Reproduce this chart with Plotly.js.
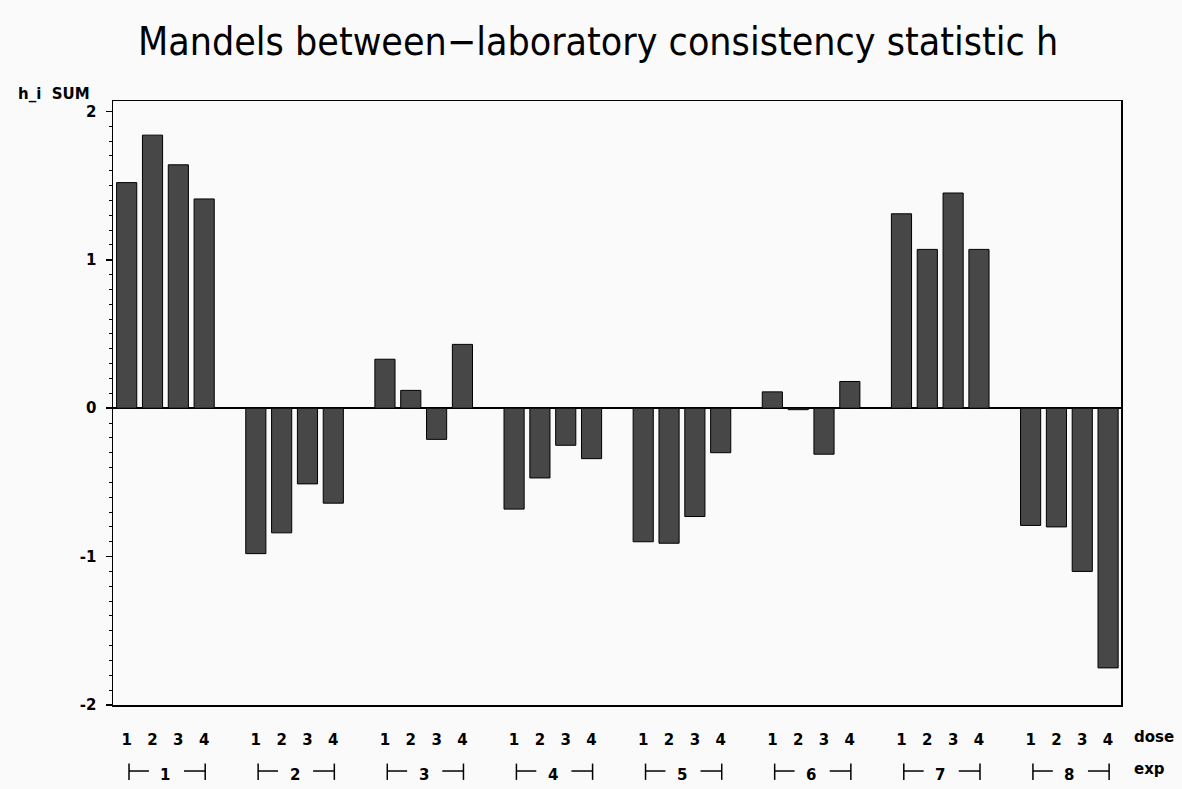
<!DOCTYPE html>
<html>
<head>
<meta charset="utf-8">
<script src="https://cdn.plot.ly/plotly-3.0.1.min.js"></script>
<style>
html,body{margin:0;padding:0;background:#fafafa;}
#chart{width:1182px;height:789px;}
</style>
</head>
<body>
<div id="chart"></div>
<script>
// ---- data ----
const expLabels  = ['1','2','3','4','5','6','7','8'];
const doseLabels = ['1','2','3','4'];
const exp1 = [1.52, 1.84, 1.64, 1.41];
const exp2 = [-0.98, -0.84, -0.51, -0.64];
const exp3 = [0.33, 0.12, -0.21, 0.43];
const exp4 = [-0.68, -0.47, -0.25, -0.34];
const exp5 = [-0.90, -0.91, -0.73, -0.30];
const exp6 = [0.11, -0.01, -0.31, 0.18];
const exp7 = [1.31, 1.07, 1.45, 1.07];
const exp8 = [-0.79, -0.80, -1.10, -1.75];
const hValues = [exp1, exp2, exp3, exp4, exp5, exp6, exp7, exp8];
const yTickVals = [-2, -1, 0, 1, 2];
const yTickText = ['-2', '-1', '0', '1', '2'];

// ---- build positions: 4 dose slots + 1 gap slot per experiment ----
const slotsPerGroup = doseLabels.length + 1;
const xs = [], ys = [], tickText = [];
hValues.forEach((vals, g) => {
  vals.forEach((v, d) => {
    xs.push(g * slotsPerGroup + d);
    ys.push(v);
    tickText.push(doseLabels[d]);
  });
});

const trace = {
  type: 'bar',
  x: xs,
  y: ys,
  width: 0.78,
  marker: { color: '#474747', line: { color: '#000000', width: 1 } },
  hoverinfo: 'x+y'
};

const FAM = 'DejaVu Sans, Liberation Sans, Arial, sans-serif';
const tickFont = { family: FAM, size: 15, color: '#000', weight: 'bold' };
const shapes = [];
const annotations = [];
const yLine = -0.1093, yTop = -0.097, yBot = -0.124;
expLabels.forEach((lab, g) => {
  const x0 = g * slotsPerGroup;
  const left = x0 + 0.09, right = x0 + 3.04;
  const lineStyle = { color: '#000', width: 1.5 };
  shapes.push({ type: 'line', xref: 'x', yref: 'paper', x0: left, x1: left, y0: yTop, y1: yBot, line: lineStyle });
  shapes.push({ type: 'line', xref: 'x', yref: 'paper', x0: left, x1: x0 + 0.86, y0: yLine, y1: yLine, line: lineStyle });
  shapes.push({ type: 'line', xref: 'x', yref: 'paper', x0: x0 + 2.22, x1: right, y0: yLine, y1: yLine, line: lineStyle });
  shapes.push({ type: 'line', xref: 'x', yref: 'paper', x0: right, x1: right, y0: yTop, y1: yBot, line: lineStyle });
  annotations.push({ xref: 'x', yref: 'paper', x: x0 + 1.5, y: yLine - 0.006, text: lab,
    showarrow: false, font: tickFont, xanchor: 'center', yanchor: 'middle' });
});
annotations.push({ xref: 'paper', yref: 'paper', x: -0.096, y: 1.011, text: 'h_i  SUM', showarrow: false,
  font: { family: FAM, size: 15, color: '#000', weight: 'bold' }, xanchor: 'left', yanchor: 'middle' });
annotations.push({ xref: 'paper', yref: 'paper', x: 1.0105, y: -0.0535, text: 'dose', showarrow: false,
  font: tickFont, xanchor: 'left', yanchor: 'middle' });
annotations.push({ xref: 'paper', yref: 'paper', x: 1.0105, y: -0.106, text: 'exp', showarrow: false,
  font: tickFont, xanchor: 'left', yanchor: 'middle' });

const layout = {
  width: 1182, height: 789,
  paper_bgcolor: '#fafafa', plot_bgcolor: '#fafafa',
  margin: { l: 113, r: 61, t: 101, b: 84 },
  showlegend: false,
  bargap: 0,
  title: {
    text: 'Mandels between\u2212laboratory consistency statistic h',
    font: { family: 'DejaVu Sans Condensed, Liberation Sans, Arial, sans-serif', size: 39, color: '#000', weight: 'normal' },
    x: 0.506, xanchor: 'center', y: 0.948, yanchor: 'middle'
  },
  xaxis: {
    range: [-0.53, 38.5],
    tickmode: 'array', tickvals: xs, ticktext: tickText,
    tickfont: tickFont,
    ticks: '', showgrid: false, zeroline: false,
    showline: true, linecolor: '#000', linewidth: 1.5, mirror: true,
    ticklabelstandoff: 20
  },
  yaxis: {
    range: [-2, 2.07],
    tickmode: 'array', tickvals: yTickVals, ticktext: yTickText,
    tickfont: tickFont,
    ticks: 'outside', ticklen: 6, tickwidth: 1.5, tickcolor: '#000',
    minor: { dtick: 0.1, ticks: 'outside', ticklen: 3, tickwidth: 1, tickcolor: '#000', showgrid: false },
    showgrid: false,
    zeroline: true, zerolinecolor: '#000', zerolinewidth: 1.5,
    showline: true, linecolor: '#000', linewidth: 1.5, mirror: true,
    ticklabelstandoff: 6
  },
  shapes: shapes,
  annotations: annotations
};

Plotly.newPlot('chart', [trace], layout, { displayModeBar: false, staticPlot: true });
</script>
</body>
</html>
